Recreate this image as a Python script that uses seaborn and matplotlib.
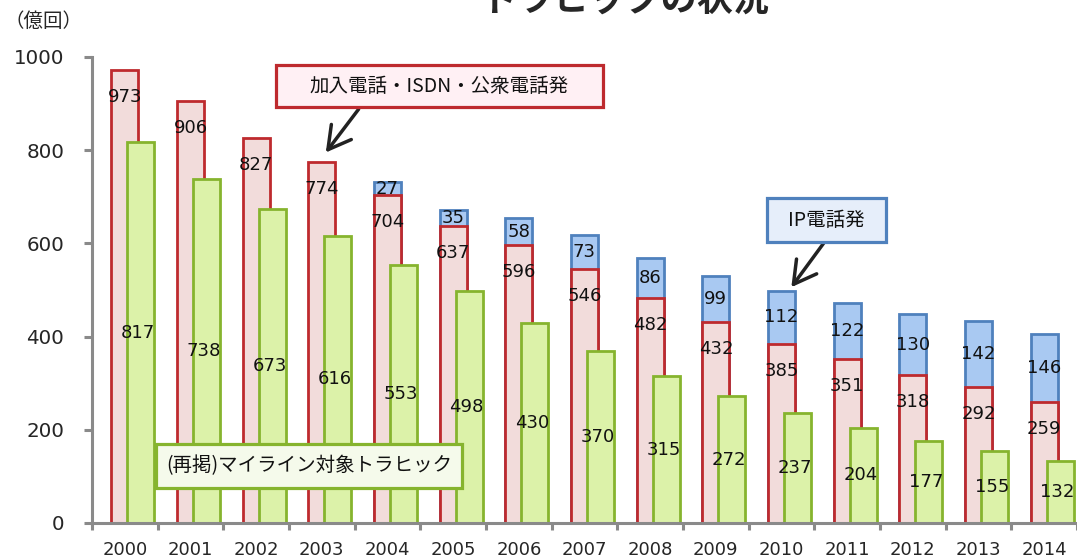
import numpy as np
import pandas as pd
import matplotlib
matplotlib.use('Agg')
import matplotlib.pyplot as plt
import seaborn as sns
from matplotlib.patches import Rectangle

# values (100 million calls)
years = [str(y) for y in range(2000, 2015)]
fixed_calls = [973, 906, 827, 774, 704, 637, 596, 546, 482, 432, 385, 351, 318, 292, 259]
ip_calls = [0, 0, 0, 0, 27, 35, 58, 73, 86, 99, 112, 122, 130, 142, 146]
myline_calls = [817, 738, 673, 616, 553, 498, 430, 370, 315, 272, 237, 204, 177, 155, 132]
y_ticks = [0, 200, 400, 600, 800, 1000]

sns.set_theme(style='white')
plt.rcParams['font.family'] = ['DejaVu Sans', 'Noto Sans CJK JP']
JP = ['Noto Sans CJK JP', 'DejaVu Sans']

red_fill, red_edge = '#F2DCDB', '#BE2A2E'
green_fill, green_edge = '#DCF2A9', '#86B42E'
blue_fill, blue_edge = '#A9C9F2', '#4F81BD'
gray = '#8A8A8A'

df = pd.DataFrame({'pos': np.arange(len(years)), 'fixed': fixed_calls,
                   'ip': ip_calls, 'myline': myline_calls})
df['total'] = df['fixed'] + df['ip']
df['pos_green'] = df['pos'] + 0.245
ip_df = df[df['ip'] > 0]

W, H = 1077, 559
fig = plt.figure(figsize=(W / 100, H / 100), dpi=100)
ax = fig.add_axes([92 / W, 36 / H, 985 / W, 466 / H])

bw = 0.41
# blue stack drawn as total height, red drawn over its lower part
sns.barplot(data=ip_df, x='pos', y='total', native_scale=True, width=bw,
            color=blue_fill, edgecolor=blue_edge, linewidth=2, saturation=1,
            errorbar=None, ax=ax)
sns.barplot(data=df, x='pos', y='fixed', native_scale=True, width=bw,
            color=red_fill, edgecolor=red_edge, linewidth=2, saturation=1,
            errorbar=None, ax=ax)
sns.barplot(data=df, x='pos_green', y='myline', native_scale=True, width=bw,
            color=green_fill, edgecolor=green_edge, linewidth=2, saturation=1,
            errorbar=None, ax=ax)

lab = dict(ha='center', va='center', fontsize=13, color='#111111')
for _, r in df.iterrows():
    ax.text(r['pos'], r['fixed'] - 58, f"{r['fixed']:.0f}", **lab)
    ax.text(r['pos_green'] - 0.04, r['myline'] / 2, f"{r['myline']:.0f}", **lab)
    if r['ip'] > 0:
        ax.text(r['pos'], r['fixed'] + r['ip'] / 2, f"{r['ip']:.0f}", **lab)

ax.set_xlim(-0.5, -0.5 + 985 / 66)
ax.set_ylim(0, 1000)
ax.set_xlabel('')
ax.set_ylabel('')
ax.set_yticks(y_ticks)
ax.set_xticks(np.arange(-0.5, len(years), 1))
ax.set_xticklabels([])
ax.set_xticks(df['pos'], minor=True)
ax.set_xticklabels(years, minor=True)
ax.grid(False)

for s in ['top', 'right']:
    ax.spines[s].set_visible(False)
for s in ['left', 'bottom']:
    ax.spines[s].set_color(gray)
    ax.spines[s].set_linewidth(2.2)

ax.tick_params(axis='y', left=True, direction='out', length=6, width=2.2,
               color=gray, pad=14, labelsize=14.3)
ax.tick_params(axis='x', which='major', bottom=True, direction='out', length=5,
               width=2.2, color=gray, labelbottom=False)
ax.tick_params(axis='x', which='minor', bottom=True, length=0, pad=13,
               labelsize=13, labelbottom=True)


def note_box(x0, y0, x1, y1, text, face, edge):
    fig.patches.append(Rectangle((x0 / W, 1 - y1 / H), (x1 - x0) / W, (y1 - y0) / H,
                                 transform=fig.transFigure, facecolor=face,
                                 edgecolor=edge, lw=2.3, zorder=5))
    fig.text((x0 + x1) / 2 / W, 1 - (y0 + y1) / 2 / H, text, ha='center',
             va='center', fontsize=14, family=JP, color='#111111', zorder=6)


note_box(276, 65, 603, 107, '加入電話・ISDN・公衆電話発', '#FFF0F4', red_edge)
note_box(767, 198, 886, 242, 'IP電話発', '#E6EEFA', blue_edge)
note_box(156, 444, 462, 488, '(再掲)マイライン対象トラヒック', '#F5FAEB', green_edge)

arrow = dict(arrowstyle='->,head_length=0.8,head_width=0.45', lw=2.5,
             color='#222222', shrinkA=0, shrinkB=0, mutation_scale=20)
ax.annotate('', xy=(3.06, 795), xytext=(3.56, 888), arrowprops=arrow)
ax.annotate('', xy=(10.15, 506), xytext=(10.65, 602), arrowprops=arrow)

fig.text(4 / W, 1 - 21 / H, '（億回）', ha='left', va='center', fontsize=14, family=JP)
# title sits mostly above the top edge, as in the source image
fig.text(0.58, 1 - 12 / H, 'トラヒックの状況', ha='center', va='baseline',
         fontsize=26, fontweight='bold', family=JP)

fig.savefig('out.png', dpi=100)
